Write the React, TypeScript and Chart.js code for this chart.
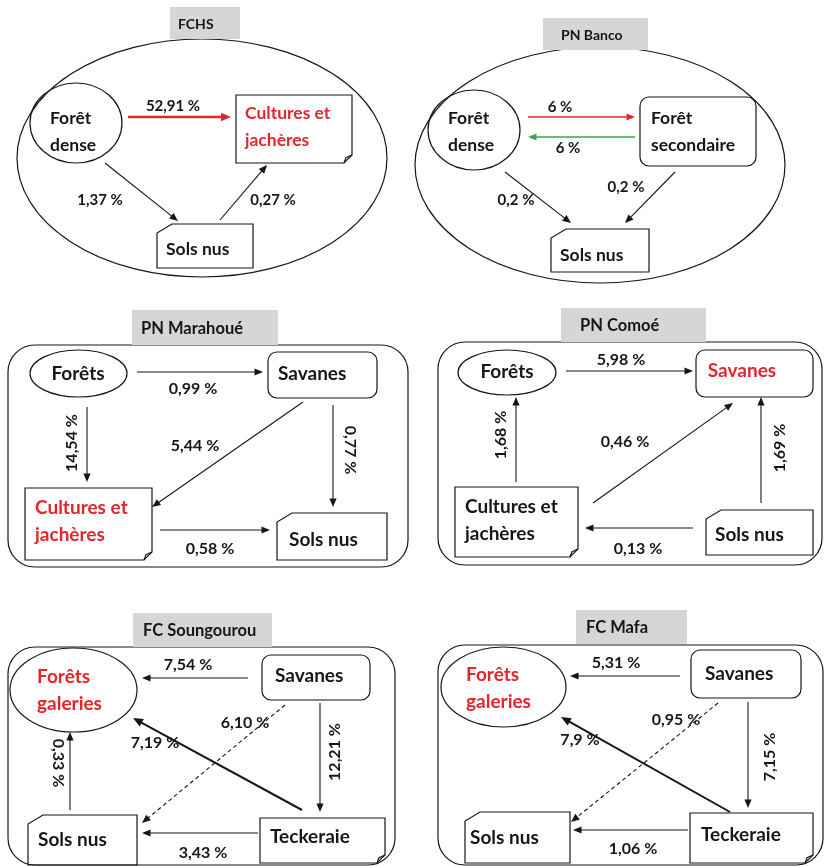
import React, { useEffect, useRef } from "react";
import { Chart, registerables } from "chart.js";

Chart.register(...registerables);

// ---------- DATA ----------
const panelTitles = ["FCHS", "PN Banco", "PN Marahoué", "PN Comoé", "FC Soungourou", "FC Mafa"];

const fchsNodes = ["Forêt\ndense", "Cultures et\njachères", "Sols nus"];
const fchsFlows = ["52,91 %", "1,37 %", "0,27 %"];

const bancoNodes = ["Forêt\ndense", "Forêt\nsecondaire", "Sols nus"];
const bancoFlows = ["6 %", "6 %", "0,2 %", "0,2 %"];

const marahoueNodes = ["Forêts", "Savanes", "Cultures et\njachères", "Sols nus"];
const marahoueFlows = ["0,99 %", "14,54 %", "5,44 %", "0,77 %", "0,58 %"];

const comoeNodes = ["Forêts", "Savanes", "Cultures et\njachères", "Sols nus"];
const comoeFlows = ["5,98 %", "1,68 %", "0,46 %", "1,69 %", "0,13 %"];

const soungourouNodes = ["Forêts\ngaleries", "Savanes", "Sols nus", "Teckeraie"];
const soungourouFlows = ["7,54 %", "6,10 %", "7,19 %", "12,21 %", "0,33 %", "3,43 %"];

const mafaNodes = ["Forêts\ngaleries", "Savanes", "Sols nus", "Teckeraie"];
const mafaFlows = ["5,31 %", "0,95 %", "7,9 %", "7,15 %", "1,06 %"];

const panelNodes = [fchsNodes, bancoNodes, marahoueNodes, comoeNodes, soungourouNodes, mafaNodes];
const panelFlows = [fchsFlows, bancoFlows, marahoueFlows, comoeFlows, soungourouFlows, mafaFlows];

// ---------- LAYOUT (positions / styles) ----------
const RED = "#e3262b";
const GREEN = "#34a853";
const INK = "#161616";
const FONT = "Lato";

type NodeL = {
  shape: "ellipse" | "round" | "fold" | "cut";
  x: number; y: number; w: number; h: number;
  tx: number; ty: number; align: "left" | "center"; red?: boolean;
};
type EdgeL = {
  x1: number; y1: number; x2: number; y2: number;
  lx: number; ly: number; rot?: number; color?: string; width?: number; dash?: boolean;
};
type PanelL = {
  frame: { type: "ellipse" | "round"; x: number; y: number; w: number; h: number };
  title: { x: number; y: number; w: number; h: number; tx: number; size: number };
  nodeSize: number; labelSize: number;
  nodes: NodeL[]; edges: EdgeL[];
};

const layout: PanelL[] = [
  {
    frame: { type: "ellipse", x: 17, y: 39, w: 370, h: 238 },
    title: { x: 170, y: 7, w: 70, h: 32, tx: 178, size: 14 },
    nodeSize: 17.5, labelSize: 15,
    nodes: [
      { shape: "ellipse", x: 30, y: 83, w: 92, h: 80, tx: 50, ty: 118, align: "left" },
      { shape: "fold", x: 236, y: 95, w: 116, h: 68, tx: 245, ty: 113, align: "left", red: true },
      { shape: "cut", x: 157, y: 224, w: 96, h: 44, tx: 166, ty: 249, align: "left" },
    ],
    edges: [
      { x1: 128, y1: 117, x2: 231, y2: 117, lx: 173, ly: 106, color: RED, width: 2.6 },
      { x1: 105, y1: 163, x2: 178, y2: 221, lx: 100, ly: 200 },
      { x1: 220, y1: 220, x2: 267, y2: 165, lx: 273, ly: 200 },
    ],
  },
  {
    frame: { type: "ellipse", x: 415, y: 47, w: 370, h: 236 },
    title: { x: 543, y: 18, w: 105, h: 32, tx: 561, size: 14 },
    nodeSize: 17.5, labelSize: 15,
    nodes: [
      { shape: "ellipse", x: 428, y: 90, w: 92, h: 80, tx: 448, ty: 118, align: "left" },
      { shape: "round", x: 640, y: 97, w: 116, h: 69, tx: 651, ty: 118, align: "left" },
      { shape: "cut", x: 551, y: 229, w: 98, h: 43, tx: 560, ty: 255, align: "left" },
    ],
    edges: [
      { x1: 528, y1: 117, x2: 635, y2: 117, lx: 560, ly: 107, color: RED, width: 1.3 },
      { x1: 635, y1: 137, x2: 528, y2: 137, lx: 568, ly: 148, color: GREEN, width: 1.3 },
      { x1: 505, y1: 172, x2: 571, y2: 223, lx: 516, ly: 200 },
      { x1: 675, y1: 172, x2: 625, y2: 223, lx: 626, ly: 187 },
    ],
  },
  {
    frame: { type: "round", x: 8, y: 345, w: 400, h: 222 },
    title: { x: 132, y: 310, w: 146, h: 35, tx: 141, size: 16.5 },
    nodeSize: 19, labelSize: 16,
    nodes: [
      { shape: "ellipse", x: 30, y: 350, w: 97, h: 47, tx: 78, ty: 374, align: "center" },
      { shape: "round", x: 268, y: 352, w: 109, h: 46, tx: 278, ty: 374, align: "left" },
      { shape: "fold", x: 25, y: 488, w: 127, h: 72, tx: 35, ty: 508, align: "left", red: true },
      { shape: "cut", x: 277, y: 513, w: 110, h: 47, tx: 289, ty: 540, align: "left" },
    ],
    edges: [
      { x1: 137, y1: 372, x2: 263, y2: 372, lx: 193, ly: 389 },
      { x1: 87, y1: 407, x2: 87, y2: 482, lx: 72, ly: 443, rot: -90 },
      { x1: 303, y1: 402, x2: 152, y2: 507, lx: 195, ly: 446 },
      { x1: 333, y1: 405, x2: 333, y2: 507, lx: 350, ly: 450, rot: 90 },
      { x1: 160, y1: 530, x2: 270, y2: 530, lx: 210, ly: 549 },
    ],
  },
  {
    frame: { type: "round", x: 438, y: 342, w: 384, h: 223 },
    title: { x: 561, y: 308, w: 145, h: 34, tx: 580, size: 16.5 },
    nodeSize: 19, labelSize: 16,
    nodes: [
      { shape: "ellipse", x: 458, y: 350, w: 98, h: 45, tx: 507, ty: 372, align: "center" },
      { shape: "round", x: 696, y: 350, w: 117, h: 47, tx: 742, ty: 371, align: "center", red: true },
      { shape: "fold", x: 455, y: 487, w: 123, h: 70, tx: 465, ty: 507, align: "left" },
      { shape: "cut", x: 706, y: 510, w: 107, h: 45, tx: 715, ty: 535, align: "left" },
    ],
    edges: [
      { x1: 566, y1: 371, x2: 693, y2: 371, lx: 621, ly: 360 },
      { x1: 516, y1: 482, x2: 516, y2: 397, lx: 501, ly: 435, rot: -90 },
      { x1: 593, y1: 503, x2: 733, y2: 403, lx: 625, ly: 442 },
      { x1: 761, y1: 503, x2: 761, y2: 397, lx: 780, ly: 448, rot: -90 },
      { x1: 693, y1: 528, x2: 585, y2: 528, lx: 638, ly: 549 },
    ],
  },
  {
    frame: { type: "round", x: 8, y: 647, w: 387, h: 218 },
    title: { x: 133, y: 613, w: 139, h: 34, tx: 143, size: 16.5 },
    nodeSize: 19, labelSize: 16,
    nodes: [
      { shape: "ellipse", x: 10, y: 648, w: 127, h: 84, tx: 37, ty: 677, align: "left", red: true },
      { shape: "round", x: 262, y: 655, w: 108, h: 45, tx: 275, ty: 676, align: "left" },
      { shape: "cut", x: 28, y: 815, w: 109, h: 50, tx: 38, ty: 840, align: "left" },
      { shape: "fold", x: 260, y: 818, w: 125, h: 45, tx: 270, ty: 837, align: "left" },
    ],
    edges: [
      { x1: 248, y1: 678, x2: 142, y2: 678, lx: 188, ly: 665 },
      { x1: 285, y1: 705, x2: 142, y2: 823, lx: 245, ly: 723, dash: true },
      { x1: 302, y1: 810, x2: 133, y2: 718, lx: 155, ly: 743, width: 2 },
      { x1: 320, y1: 703, x2: 320, y2: 812, lx: 335, ly: 752, rot: -90 },
      { x1: 70, y1: 810, x2: 70, y2: 732, lx: 58, ly: 763, rot: 90 },
      { x1: 258, y1: 833, x2: 142, y2: 833, lx: 203, ly: 853 },
    ],
  },
  {
    frame: { type: "round", x: 438, y: 645, w: 385, h: 220 },
    title: { x: 576, y: 610, w: 111, h: 34, tx: 586, size: 16.5 },
    nodeSize: 19, labelSize: 16,
    nodes: [
      { shape: "ellipse", x: 441, y: 647, w: 125, h: 80, tx: 466, ty: 675, align: "left", red: true },
      { shape: "round", x: 691, y: 650, w: 110, h: 48, tx: 705, ty: 674, align: "left" },
      { shape: "cut", x: 465, y: 812, w: 105, h: 51, tx: 470, ty: 838, align: "left" },
      { shape: "fold", x: 690, y: 813, w: 123, h: 50, tx: 701, ty: 835, align: "left" },
    ],
    edges: [
      { x1: 680, y1: 676, x2: 570, y2: 676, lx: 616, ly: 663 },
      { x1: 718, y1: 703, x2: 571, y2: 822, lx: 676, ly: 720, dash: true },
      { x1: 730, y1: 812, x2: 561, y2: 717, lx: 580, ly: 740, width: 2 },
      { x1: 748, y1: 702, x2: 748, y2: 808, lx: 770, ly: 757, rot: -90 },
      { x1: 688, y1: 830, x2: 573, y2: 830, lx: 633, ly: 849 },
    ],
  },
];

const LINE_GAP = 27;

// ---------- DRAWING PLUGIN ----------
const diagramPlugin = {
  id: "diagram",
  beforeDraw(chart: any) {
    const ctx = chart.ctx;
    ctx.save();
    ctx.fillStyle = "#ffffff";
    ctx.fillRect(0, 0, chart.width, chart.height);
    ctx.restore();
  },
  afterDraw(chart: any) {
    const ctx: CanvasRenderingContext2D = chart.ctx;
    const sx = chart.scales.x;
    const sy = chart.scales.y;
    const X = (v: number) => sx.getPixelForValue(v);
    const Y = (v: number) => sy.getPixelForValue(v);
    const W = (v: number) => Math.abs(sx.getPixelForValue(v) - sx.getPixelForValue(0));
    const H = (v: number) => Math.abs(sy.getPixelForValue(v) - sy.getPixelForValue(0));

    const roundRect = (x: number, y: number, w: number, h: number, r: number) => {
      ctx.beginPath();
      ctx.moveTo(x + r, y);
      ctx.lineTo(x + w - r, y);
      ctx.arcTo(x + w, y, x + w, y + r, r);
      ctx.lineTo(x + w, y + h - r);
      ctx.arcTo(x + w, y + h, x + w - r, y + h, r);
      ctx.lineTo(x + r, y + h);
      ctx.arcTo(x, y + h, x, y + h - r, r);
      ctx.lineTo(x, y + r);
      ctx.arcTo(x, y, x + r, y, r);
      ctx.closePath();
    };

    ctx.save();
    ctx.lineJoin = "miter";

    layout.forEach((p, pi) => {
      // frame
      ctx.lineWidth = 1.2;
      ctx.setLineDash([]);
      ctx.strokeStyle = INK;
      if (p.frame.type === "ellipse") {
        ctx.beginPath();
        ctx.ellipse(X(p.frame.x + p.frame.w / 2), Y(p.frame.y + p.frame.h / 2), W(p.frame.w / 2), H(p.frame.h / 2), 0, 0, Math.PI * 2);
        ctx.stroke();
      } else {
        roundRect(X(p.frame.x), Y(p.frame.y), W(p.frame.w), H(p.frame.h), 27);
        ctx.stroke();
      }

      // title
      ctx.fillStyle = "#d6d6d6";
      ctx.fillRect(X(p.title.x), Y(p.title.y), W(p.title.w), H(p.title.h));
      ctx.fillStyle = INK;
      ctx.font = `bold ${p.title.size}px ${FONT}`;
      ctx.textAlign = "left";
      ctx.textBaseline = "middle";
      ctx.fillText(panelTitles[pi], X(p.title.tx), Y(p.title.y + p.title.h / 2 + 1));

      // nodes
      const labels = panelNodes[pi];
      p.nodes.forEach((n, ni) => {
        ctx.lineWidth = 1.2;
        ctx.strokeStyle = INK;
        const x = X(n.x), y = Y(n.y), w = W(n.w), h = H(n.h);
        if (n.shape === "ellipse") {
          ctx.beginPath();
          ctx.ellipse(x + w / 2, y + h / 2, w / 2, h / 2, 0, 0, Math.PI * 2);
          ctx.stroke();
        } else if (n.shape === "round") {
          roundRect(x, y, w, h, 9);
          ctx.stroke();
        } else if (n.shape === "fold") {
          const f = 8;
          ctx.beginPath();
          ctx.moveTo(x, y);
          ctx.lineTo(x + w, y);
          ctx.lineTo(x + w, y + h - f);
          ctx.lineTo(x + w - f, y + h);
          ctx.lineTo(x, y + h);
          ctx.closePath();
          ctx.stroke();
          ctx.beginPath();
          ctx.moveTo(x + w, y + h - f);
          ctx.lineTo(x + w - f * 0.75, y + h - f * 0.65);
          ctx.lineTo(x + w - f, y + h);
          ctx.stroke();
        } else {
          const cx = 15, cy = 9;
          ctx.beginPath();
          ctx.moveTo(x + cx, y);
          ctx.lineTo(x + w, y);
          ctx.lineTo(x + w, y + h);
          ctx.lineTo(x, y + h);
          ctx.lineTo(x, y + cy);
          ctx.closePath();
          ctx.stroke();
        }
        const lines = labels[ni].split("\n");
        ctx.fillStyle = n.red ? RED : INK;
        ctx.font = `bold ${p.nodeSize}px ${FONT}`;
        ctx.textAlign = n.align;
        ctx.textBaseline = "middle";
        lines.forEach((ln: string, li: number) => {
          ctx.fillText(ln, X(n.tx), Y(n.ty + li * LINE_GAP));
        });
      });

      // edges
      const flows = panelFlows[pi];
      p.edges.forEach((e, ei) => {
        const color = e.color || INK;
        const lw = e.width || 1.1;
        const x1 = X(e.x1), y1 = Y(e.y1), x2 = X(e.x2), y2 = Y(e.y2);
        const ang = Math.atan2(y2 - y1, x2 - x1);
        const hl = lw > 1.8 ? 10 : 8.5;
        const hw = lw > 1.8 ? 4.2 : 3.6;
        const bx = x2 - Math.cos(ang) * (hl - 1);
        const by = y2 - Math.sin(ang) * (hl - 1);
        ctx.strokeStyle = color;
        ctx.fillStyle = color;
        ctx.lineWidth = lw;
        ctx.setLineDash(e.dash ? [4, 3] : []);
        ctx.beginPath();
        ctx.moveTo(x1, y1);
        ctx.lineTo(bx, by);
        ctx.stroke();
        ctx.setLineDash([]);
        ctx.beginPath();
        ctx.moveTo(x2, y2);
        ctx.lineTo(x2 - Math.cos(ang) * hl - Math.sin(ang) * hw, y2 - Math.sin(ang) * hl + Math.cos(ang) * hw);
        ctx.lineTo(x2 - Math.cos(ang) * hl + Math.sin(ang) * hw, y2 - Math.sin(ang) * hl - Math.cos(ang) * hw);
        ctx.closePath();
        ctx.fill();

        // label
        ctx.fillStyle = INK;
        ctx.font = `bold ${p.labelSize}px ${FONT}`;
        ctx.textAlign = "center";
        ctx.textBaseline = "middle";
        ctx.save();
        ctx.translate(X(e.lx), Y(e.ly));
        if (e.rot) ctx.rotate((e.rot * Math.PI) / 180);
        ctx.fillText(flows[ei], 0, 0);
        ctx.restore();
      });
    });
    ctx.restore();
  },
};

export default function App() {
  const ref = useRef<HTMLCanvasElement | null>(null);
  useEffect(() => {
    if (!ref.current) return;
    const nodeCenters = layout.flatMap((p) => p.nodes.map((n) => ({ x: n.x + n.w / 2, y: n.y + n.h / 2 })));
    const chart = new Chart(ref.current, {
      type: "scatter",
      data: {
        datasets: [{ data: nodeCenters, pointRadius: 0, showLine: false }],
      },
      options: {
        animation: false,
        responsive: true,
        maintainAspectRatio: false,
        layout: { padding: 0 },
        events: [],
        plugins: { legend: { display: false }, tooltip: { enabled: false } },
        scales: {
          x: { type: "linear", min: 0, max: 826, display: false },
          y: { type: "linear", min: 0, max: 866, reverse: true, display: false },
        },
      },
      plugins: [diagramPlugin],
    } as any);
    return () => chart.destroy();
  }, []);
  return (
    <div style={{ position: "absolute", left: 0, top: 0, width: 826, height: 866, background: "#fff" }}>
      <canvas ref={ref} />
    </div>
  );
}
